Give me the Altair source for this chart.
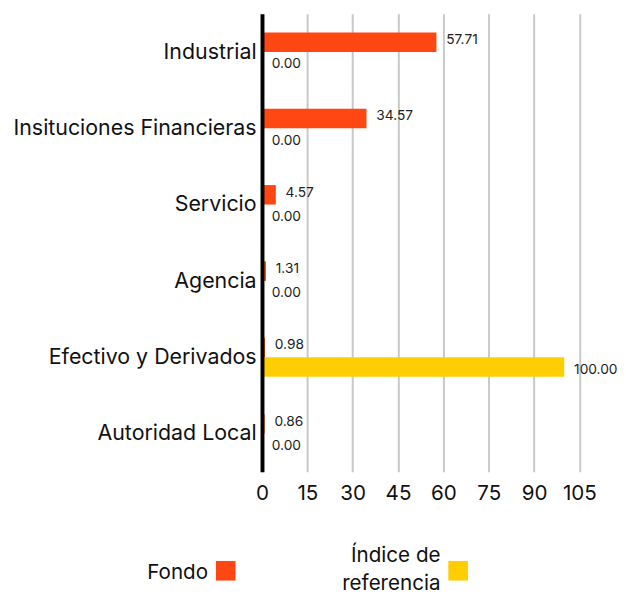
import altair as alt
import pandas as pd

FONT = "Inter"

categories = ["Industrial", "Insituciones Financieras", "Servicio", "Agencia",
              "Efectivo y Derivados", "Autoridad Local"]
fondo = [57.71, 34.57, 4.57, 1.31, 0.98, 0.86]
indice = [0.00, 0.00, 0.00, 0.00, 100.00, 0.00]
series_names = ["Fondo", "Índice de referencia"]
legend_texts = ["Fondo", "Índice de\nreferencia"]
colors = ["#FF4713", "#FFCE00"]
x_ticks = [0, 15, 30, 45, 60, 75, 90, 105]

rows = []
for c, f, i in zip(categories, fondo, indice):
    rows.append({"cat": c, "serie": series_names[0], "val": f})
    rows.append({"cat": c, "serie": series_names[1], "val": i})
df = pd.DataFrame(rows)
df["label"] = df["val"].map(lambda v: f"{v:.2f}")

color = alt.Color("serie:N", scale=alt.Scale(domain=series_names, range=colors), legend=None)

y = alt.Y("cat:N", sort=categories,
          scale=alt.Scale(paddingInner=0.49, paddingOuter=0.245),
          axis=alt.Axis(title=None, ticks=False, domainColor="black", domainWidth=4,
                        labelFontSize=21.8, labelPadding=6, labelColor="#111",
                        labelFont=FONT, labelLimit=400, grid=False, zindex=1))
x = alt.X("val:Q", scale=alt.Scale(domain=[0, 110], nice=False),
          axis=alt.Axis(values=x_ticks, title=None, ticks=False, domain=False,
                        gridColor="#c8c8c8", gridWidth=2, labelFontSize=21,
                        labelFlush=False, labelPadding=11, labelColor="#111",
                        labelFont=FONT))
yoff = alt.YOffset("serie:N", sort=series_names)

base = alt.Chart(df)
bars = base.mark_bar().encode(x=x, y=y, yOffset=yoff, color=color)
lbl_style = dict(align="left", dx=10, fontSize=14, font=FONT, color="#222")
texts1 = base.transform_filter(alt.datum.serie == series_names[0]).mark_text(
    dy=-2, **lbl_style).encode(x=x, y=y, yOffset=yoff, text="label:N")
texts2 = base.transform_filter(alt.datum.serie == series_names[1]).mark_text(
    dy=3, **lbl_style).encode(x=x, y=y, yOffset=yoff, text="label:N")
main = (bars + texts1 + texts2).properties(width=339, height=467)

leg_df = pd.DataFrame({"serie": series_names, "text": legend_texts})
leg_base = alt.Chart(leg_df).encode(
    x=alt.X("serie:N", sort=series_names,
            scale=alt.Scale(type="point", range=[-37, 200], padding=0), axis=None))
sq = leg_base.mark_square(size=400, opacity=1, filled=True).encode(color=color)
txt_style = dict(align="right", baseline="middle", dx=-18, fontSize=21, font=FONT,
                 lineBreak="\n", lineHeight=29, color="#111")
ltxt1 = leg_base.transform_filter(alt.datum.serie == series_names[0]).mark_text(
    dy=2, **txt_style).encode(text="text:N")
ltxt2 = leg_base.transform_filter(alt.datum.serie == series_names[1]).mark_text(
    dy=-15, **txt_style).encode(text="text:N")
legend_chart = (sq + ltxt1 + ltxt2).properties(width=339, height=40)

chart = alt.vconcat(main, legend_chart, spacing=43).properties(
    padding={"left": 4, "right": 0, "top": 0, "bottom": 0}
).configure(font=FONT).configure_view(stroke=None)

chart.save("out.html", embed_options={"renderer": "svg", "actions": False})
